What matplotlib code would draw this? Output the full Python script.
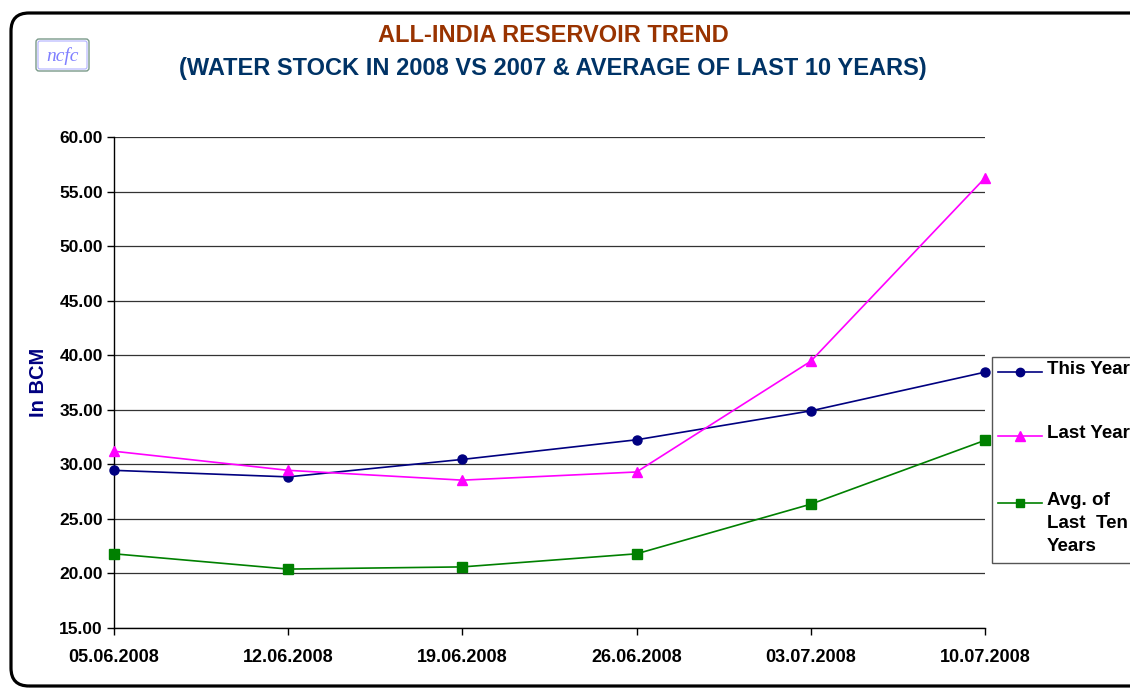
import matplotlib.pyplot as plt
from matplotlib.patches import FancyBboxPatch, Rectangle
from matplotlib.lines import Line2D
from matplotlib.transforms import IdentityTransform

plt.rcParams['font.family'] = ['Liberation Sans', 'DejaVu Sans']

dates = ['05.06.2008', '12.06.2008', '19.06.2008', '26.06.2008', '03.07.2008', '10.07.2008']
this_year = [29.45, 28.85, 30.45, 32.25, 34.9, 38.45]
last_year = [31.2, 29.45, 28.55, 29.3, 39.45, 56.25]
avg_ten = [21.8, 20.4, 20.6, 21.8, 26.35, 32.2]
series_labels = ['This Year', 'Last Year', 'Avg. of\nLast  Ten\nYears']
yticks = [15, 20, 25, 30, 35, 40, 45, 50, 55, 60]

W, H = 1130, 688
fig = plt.figure(figsize=(W / 100, H / 100), dpi=100)


def fx(px):
    return px / W


def fy(py):
    return 1 - py / H


# rounded outer frame in pixel units (runs off the right edge like the source)
frame = FancyBboxPatch((11, 2), 1160, H - 15,
                       boxstyle='round,pad=0,rounding_size=18',
                       transform=IdentityTransform(), fill=False,
                       edgecolor='black', linewidth=2.3, clip_on=False)
fig.patches.append(frame)

# ncfc logo: grey-green outer edge with a pale blue inner edge
logo = FancyBboxPatch((36, H - 71), 53, 32,
                      boxstyle='round,pad=0,rounding_size=3',
                      transform=IdentityTransform(), facecolor='white',
                      edgecolor='#7a9a8a', linewidth=1.0)
fig.patches.append(logo)
logo_in = FancyBboxPatch((38, H - 69), 49, 28,
                         boxstyle='round,pad=0,rounding_size=2',
                         transform=IdentityTransform(), fill=False,
                         edgecolor='#b0b0ff', linewidth=0.8)
fig.patches.append(logo_in)
fig.text(fx(62.5), fy(56), 'ncfc', ha='center', va='center', fontsize=14,
         family='Liberation Serif', style='italic', color='#7f7fff')

fig.text(fx(553), fy(36), 'ALL-INDIA RESERVOIR TREND', ha='center', va='center',
         fontsize=17, fontweight='bold', color='#993300')
fig.text(fx(553), fy(69), '(WATER STOCK IN 2008 VS 2007 & AVERAGE OF LAST 10 YEARS)',
         ha='center', va='center', fontsize=17, fontweight='bold', color='#003366')

ax = fig.add_axes([fx(114), fy(628), fx(985) - fx(114), fy(137) - fy(628)])
x = list(range(len(dates)))
styles = [('#000080', 'o', 6.5), ('#ff00ff', '^', 7.5), ('#008000', 's', 6.5)]
for vals, (c, m, ms) in zip([this_year, last_year, avg_ten], styles):
    ax.plot(x, vals, color=c, marker=m, markersize=ms, linewidth=1.2, clip_on=False, zorder=3)

ax.set_xlim(0, len(dates) - 1)
ax.set_ylim(15, 60)
ax.set_yticks(yticks)
ax.set_yticklabels([f'{v:.2f}' for v in yticks])
ax.set_xticks(x)
ax.set_xticklabels(dates)
ax.tick_params(axis='y', labelsize=12.5, length=5, width=1, color='black', pad=3)
ax.tick_params(axis='x', labelsize=13, length=5, width=1, color='black', pad=10)
for lbl in ax.get_xticklabels() + ax.get_yticklabels():
    lbl.set_fontweight('bold')
ax.grid(axis='y', color='#333333', linewidth=0.9)
ax.set_axisbelow(True)
for s in ['top', 'right']:
    ax.spines[s].set_visible(False)
for s in ['left', 'bottom']:
    ax.spines[s].set_color('black')
    ax.spines[s].set_linewidth(1.0)

ax.set_ylabel('In BCM', fontsize=14.5, fontweight='bold', color='#000080', labelpad=8)

# legend drawn by hand so the handle sits on the first text line
leg = Rectangle((fx(992), fy(563)), fx(1140) - fx(992), fy(357) - fy(563),
                transform=fig.transFigure, facecolor='white', edgecolor='#555555',
                linewidth=1.0, clip_on=False)
fig.patches.append(leg)
rows = [372, 436, 503]
for py, lab, (c, m, ms) in zip(rows, series_labels, styles):
    fig.lines.append(Line2D([fx(998), fx(1042)], [fy(py), fy(py)], color=c,
                            linewidth=1.2, transform=fig.transFigure))
    fig.lines.append(Line2D([fx(1020)], [fy(py)], color=c, marker=m, markersize=ms - 0.5,
                            transform=fig.transFigure))
    fig.text(fx(1047), fy(py - 11), lab, ha='left', va='top', fontsize=13.5, fontweight='bold',
             linespacing=1.45)

fig.savefig('out.png', dpi=100)
